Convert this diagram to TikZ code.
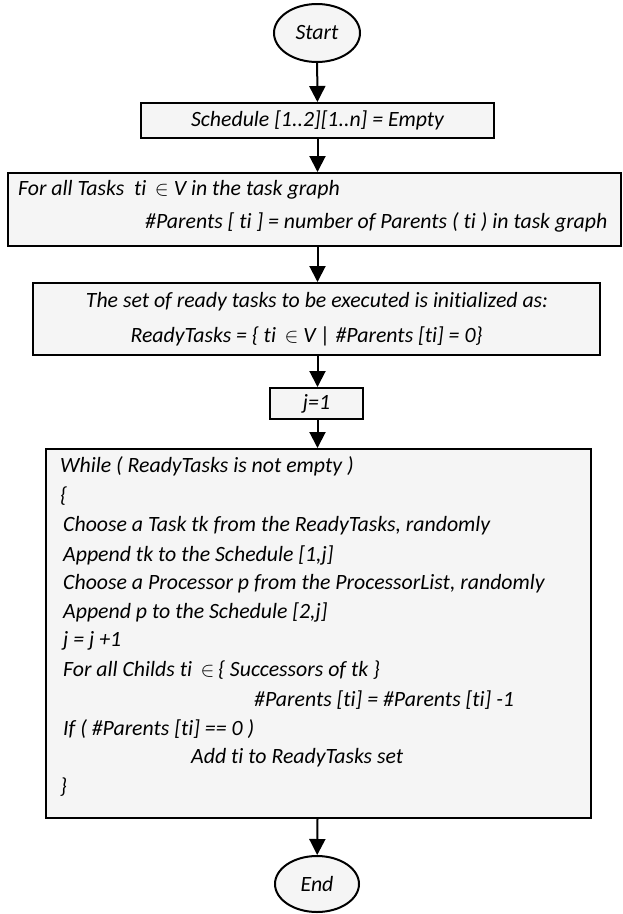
\documentclass[tikz,border=0pt]{standalone}
\usepackage{fontspec}
\setmainfont[Ligatures={NoCommon,NoContextual,NoRequired},RawFeature={-liga;-clig;-calt;-dlig}]{Carlito}
\usetikzlibrary{arrows.meta,shapes.geometric}
\begin{document}
\begin{tikzpicture}[x=1pt,y=-1pt,
  txt/.style={font=\itshape\fontsize{21.8}{26}\selectfont, inner sep=0pt},
  stepbox/.style={draw, line width=2pt, fill=black!4, rectangle, inner sep=0pt},
  terminal/.style={draw, line width=2pt, fill=black!4, ellipse, inner sep=0pt,
    font=\itshape\fontsize{21.8}{26}\selectfont},
  flow/.style={line width=2pt, -{Triangle[width=16pt,length=16pt]}}]
  \useasboundingbox (0,0) rectangle (623,914);

  % terminals and process boxes
  \node[terminal, minimum width=86, minimum height=58] (start) at (317,33) {Start};
  \node[stepbox, minimum width=353, minimum height=35] (sched) at (317.5,120.5) {};
  \node[stepbox, minimum width=613, minimum height=73] (forall) at (314.5,209.5) {};
  \node[stepbox, minimum width=567, minimum height=72] (init) at (316.5,319) {};
  \node[stepbox, minimum width=93, minimum height=31] (jone) at (316.5,403.5) {};
  \node[stepbox, minimum width=545, minimum height=369] (loop) at (318.5,633.5) {};
  \node[terminal, minimum width=84, minimum height=56] (end) at (317,884) {End};

  % box texts
  \node[txt] (tsched) at (sched) {Schedule [1..2][1..n] = Empty};
  \node[txt, anchor=west] (tf1) at (18,190) {For all Tasks\ \ ti \,$\in$ V in the task graph};
  \node[txt, anchor=west] (tf2) at (145,222) {\#Parents [ ti ] = number of Parents ( ti ) in task graph};
  \node[txt] (ti1) at (317,302) {The set of ready tasks to be executed is initialized as:};
  \node[txt] (ti2) at (306.5,336) {ReadyTasks = \{ ti \,$\in$ V | \#Parents [ti] = 0\}};
  \node[txt] (tj) at (jone) {j=1};

  \node[txt, anchor=west] (l1) at (60,466) {While ( ReadyTasks is not empty )};
  \node[txt, anchor=west] (l2) at (60,496) {\{};
  \node[txt, anchor=west] (l3) at (63,526) {Choose a Task tk from the ReadyTasks, randomly};
  \node[txt, anchor=west] (l4) at (63,555) {Append tk to the Schedule [1,j]};
  \node[txt, anchor=west] (l5) at (63,584) {Choose a Processor p from the ProcessorList, randomly};
  \node[txt, anchor=west] (l6) at (63,612) {Append p to the Schedule [2,j]};
  \node[txt, anchor=west] (l7) at (63,641) {j = j +1};
  \node[txt, anchor=west] (l8) at (63,670) {For all Childs ti \,$\in$\,\{ Successors of tk \}};
  \node[txt, anchor=west] (l9) at (254,700) {\#Parents [ti] = \#Parents [ti] -1};
  \node[txt, anchor=west] (l10) at (63,729) {If ( \#Parents [ti] == 0 )};
  \node[txt, anchor=west] (l11) at (191,758) {Add ti to ReadyTasks set};
  \node[txt, anchor=west] (l12) at (60,787) {\}};

  % connectors
  \draw[flow] (start) -- (sched);
  \draw[flow] (sched) -- (sched |- forall.north);
  \draw[flow] (sched |- forall.south) -- (sched |- init.north);
  \draw[flow] (sched |- init.south) -- (sched |- jone.north);
  \draw[flow] (sched |- jone.south) -- (sched |- loop.north);
  \draw[flow] (sched |- loop.south) -- (end);
\end{tikzpicture}
\end{document}
